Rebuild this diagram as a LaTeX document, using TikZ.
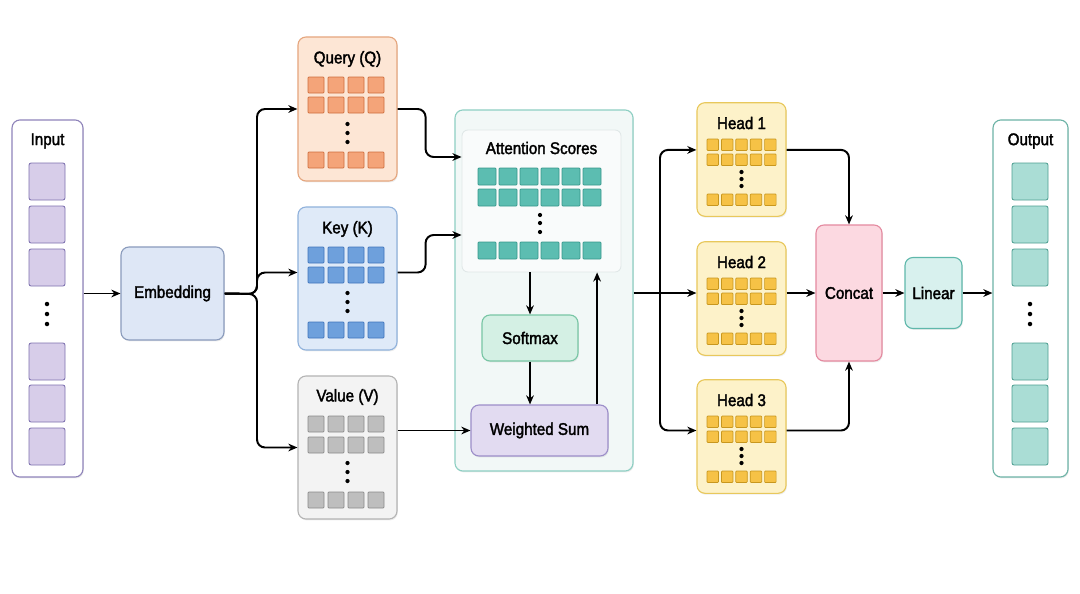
\documentclass[tikz,border=0pt]{standalone}
\usepackage{fontspec}
\setmainfont[FakeStretch=0.9, FakeBold=2]{Liberation Sans}
\usetikzlibrary{positioning, arrows.meta, shadows}

\definecolor{inedge}{HTML}{8F84BA}
\definecolor{incell}{HTML}{D7CDE9}
\definecolor{incelld}{HTML}{7D70AE}
\definecolor{embfill}{HTML}{DEE7F6}
\definecolor{embedge}{HTML}{8A9BBC}
\definecolor{qfill}{HTML}{FDE6D5}
\definecolor{qedge}{HTML}{E5A67E}
\definecolor{qcell}{HTML}{F4A479}
\definecolor{qcelld}{HTML}{CF6E3C}
\definecolor{kfill}{HTML}{DFEAF8}
\definecolor{kedge}{HTML}{90B2DC}
\definecolor{kcell}{HTML}{6EA0DC}
\definecolor{kcelld}{HTML}{3F73BC}
\definecolor{vfill}{HTML}{F3F3F3}
\definecolor{vedge}{HTML}{B4B4B4}
\definecolor{vcell}{HTML}{BEBEBE}
\definecolor{vcelld}{HTML}{8A8A8A}
\definecolor{attfill}{HTML}{F2F8F7}
\definecolor{attedge}{HTML}{8ECFC3}
\definecolor{scfill}{HTML}{F9FBFB}
\definecolor{scedge}{HTML}{E0E7E7}
\definecolor{sccell}{HTML}{5CBDB1}
\definecolor{sccelld}{HTML}{36988C}
\definecolor{smfill}{HTML}{D4F0E4}
\definecolor{smedge}{HTML}{78C6A5}
\definecolor{wsfill}{HTML}{E2DBF1}
\definecolor{wsedge}{HTML}{9C8EC9}
\definecolor{hdfill}{HTML}{FDF2C9}
\definecolor{hdedge}{HTML}{E8C85C}
\definecolor{hdcell}{HTML}{F6C246}
\definecolor{hdcelld}{HTML}{C8971E}
\definecolor{ccfill}{HTML}{FCD9E1}
\definecolor{ccedge}{HTML}{E48AA0}
\definecolor{lnfill}{HTML}{D8F1EE}
\definecolor{lnedge}{HTML}{5FB8AB}
\definecolor{outedge}{HTML}{6DB3A6}
\definecolor{outcell}{HTML}{AADDD5}
\definecolor{outcelld}{HTML}{4F9F92}

\tikzset{
  block/.style={draw, rounded corners=0.2cm, line width=0.8pt, align=center,
    font=\fontsize{12}{14}\selectfont,
    drop shadow={opacity=0.15, shadow xshift=0.6pt, shadow yshift=-1pt}}
}
\tikzset{
  titletext/.style={font=\fontsize{12}{14}\selectfont}
}
\tikzset{
  cell/.style={line width=0.5pt, rounded corners=0.6pt},
  bigcell/.style={line width=0.6pt, rounded corners=1.5pt},
  conn/.style={line width=1.7pt, ->},
  bentconn/.style={line width=1.4pt, ->, rounded corners=0.2cm}
}

\begin{document}
\begin{tikzpicture}[x=0.025cm, y=-0.025cm, >={Stealth[length=6.5pt,width=5.5pt]}]
      \useasboundingbox (0,0) rectangle (1080,593);
      % input and output columns
      \node[block, draw=inedge, fill=white, minimum width=1.775cm, minimum height=8.925cm] (input) at (47.5,298.5) {};
      \node[titletext] (intitle) at (47.5,141) {Input};
      \node[block, draw=outedge, fill=white, minimum width=1.875cm, minimum height=8.925cm] (output) at (1030.5,298.5) {};
      \node[titletext] (outtitle) at (1030.5,141) {Output};
      \foreach \y in {163,206,249,343,385,428} {
        \filldraw[bigcell, fill=incell, draw=incelld] (29,\y) rectangle ++(36,37);
        \filldraw[bigcell, fill=outcell, draw=outcelld] (1012,\y) rectangle ++(36,37);
      }
      \foreach \y in {304,314,324} {
        \fill (47,\y) circle (1.6pt);
        \fill (1030,\y) circle (1.6pt);
      }
      \node[block, draw=embedge, fill=embfill, minimum width=2.575cm, minimum height=2.325cm] (emb) at (172.5,293.5) {Embedding};
      % Q, K, V
      \node[block, draw=qedge, fill=qfill, minimum width=2.475cm, minimum height=3.6cm] (query) at (347.5,109) {};
      \node[titletext] (qtitle) at (347.5,59) {Query (Q)};
      \node[block, draw=kedge, fill=kfill, minimum width=2.475cm, minimum height=3.575cm] (key) at (347.5,278.5) {};
      \node[titletext] (ktitle) at (347.5,229) {Key (K)};
      \node[block, draw=vedge, fill=vfill, minimum width=2.475cm, minimum height=3.575cm] (value) at (347.5,447.5) {};
      \node[titletext] (vtitle) at (347.5,397) {Value (V)};
      \foreach \i in {0,...,3} {
        \foreach \y in {77,97,152}
          \filldraw[cell, fill=qcell, draw=qcelld] (308+\i*20,\y) rectangle ++(16,16);
        \foreach \y in {247,267,322}
          \filldraw[cell, fill=kcell, draw=kcelld] (308+\i*20,\y) rectangle ++(16,16);
        \foreach \y in {416,437,492}
          \filldraw[cell, fill=vcell, draw=vcelld] (308+\i*20,\y) rectangle ++(16,16);
      }
      \foreach \y in {124,133,142,293,302,311,463,472,481}
        \fill (347.5,\y) circle (1.5pt);
      % attention block
      \node[block, draw=attedge, fill=attfill, minimum width=4.45cm, minimum height=9.025cm] (attn) at (544,290.5) {};
      \node[draw=scedge, fill=scfill, rounded corners=0.15cm, line width=0.6pt, minimum width=3.975cm, minimum height=3.55cm] (scores) at (541.5,201) {};
      \node[titletext] (sctitle) at (541.5,148) {Attention Scores};
      \foreach \i in {0,...,5}
        \foreach \y in {168,189,242}
          \filldraw[cell, fill=sccell, draw=sccelld] (478+\i*21,\y) rectangle ++(18,17);
      \foreach \y in {215,223,232}
        \fill (540,\y) circle (1.5pt);
      \node[block, draw=smedge, fill=smfill, minimum width=2.4cm, minimum height=1.15cm] (softmax) at (530,338) {Softmax};
      \node[block, draw=wsedge, fill=wsfill, minimum width=3.425cm, minimum height=1.275cm] (wsum) at (539.5,430.5) {Weighted Sum};
      % heads
      \foreach \n/\dy in {1/0, 2/139, 3/277} {
        \node[block, draw=hdedge, fill=hdfill, minimum width=2.225cm, minimum height=2.84cm] (head\n) at (741.5,159.5+\dy) {};
        \node[titletext] (h\n title) at (741.5,123+\dy) {Head \n};
        \foreach \i in {0,...,4}
          \foreach \y in {139,154,194}
            \filldraw[cell, fill=hdcell, draw=hdcelld] (707+\i*14.4,\y+\dy) rectangle ++(11.5,11.5);
        \foreach \y in {172,179,186}
          \fill (741.5,\y+\dy) circle (1.5pt);
      }
      \node[block, draw=ccedge, fill=ccfill, minimum width=1.65cm, minimum height=3.4cm] (concat) at (849,293) {Concat};
      \node[block, draw=lnedge, fill=lnfill, minimum width=1.425cm, minimum height=1.775cm] (linear) at (933.5,293) {Linear};
      % connectors
      \coordinate (embsplit) at (257,294);
      \coordinate (attsplit) at (660,293);
      \draw[bentconn] (input.east |- emb) -- (emb);
      \draw[bentconn] (emb.east) -- (embsplit) |- (query.west);
      \draw[bentconn] (emb.east) -- (embsplit) |- ([yshift=0.15cm]key.west);
      \draw[bentconn] (emb.east) -- (embsplit) |- (value.west);
      \draw[bentconn] (query.east) -- ++(28,0) |- ([yshift=1.1cm]scores.west);
      \draw[bentconn] ([yshift=0.15cm]key.east) -- ++(28,0) |- ([yshift=-0.85cm]scores.west);
      \draw[bentconn] (value.east |- wsum.west) -- (wsum.west);
      \draw[conn] (softmax.north |- scores.south) -- (softmax.north);
      \draw[conn] (softmax.south) -- (softmax.south |- wsum.north);
      \draw[conn] ([xshift=1.44cm]wsum.north) -- ([xshift=1.44cm]wsum.north |- scores.south);
      \draw[line width=1.4pt] (attn.east |- attsplit) -- (attsplit);
      \draw[bentconn] (attsplit) |- ([yshift=0.24cm]head1.west);
      \draw[conn] (attsplit) -- (attsplit -| head2.west);
      \draw[bentconn] (attsplit) |- ([yshift=0.15cm]head3.west);
      \draw[bentconn] ([yshift=0.24cm]head1.east) -| (concat.north);
      \draw[conn] (concat.west -| head2.east) -- (concat.west);
      \draw[bentconn] ([yshift=0.15cm]head3.east) -| (concat.south);
      \draw[conn] (concat) -- (linear);
      \draw[conn] (linear.east) -- (linear.east -| output.west);
    \end{tikzpicture}
\end{document}
